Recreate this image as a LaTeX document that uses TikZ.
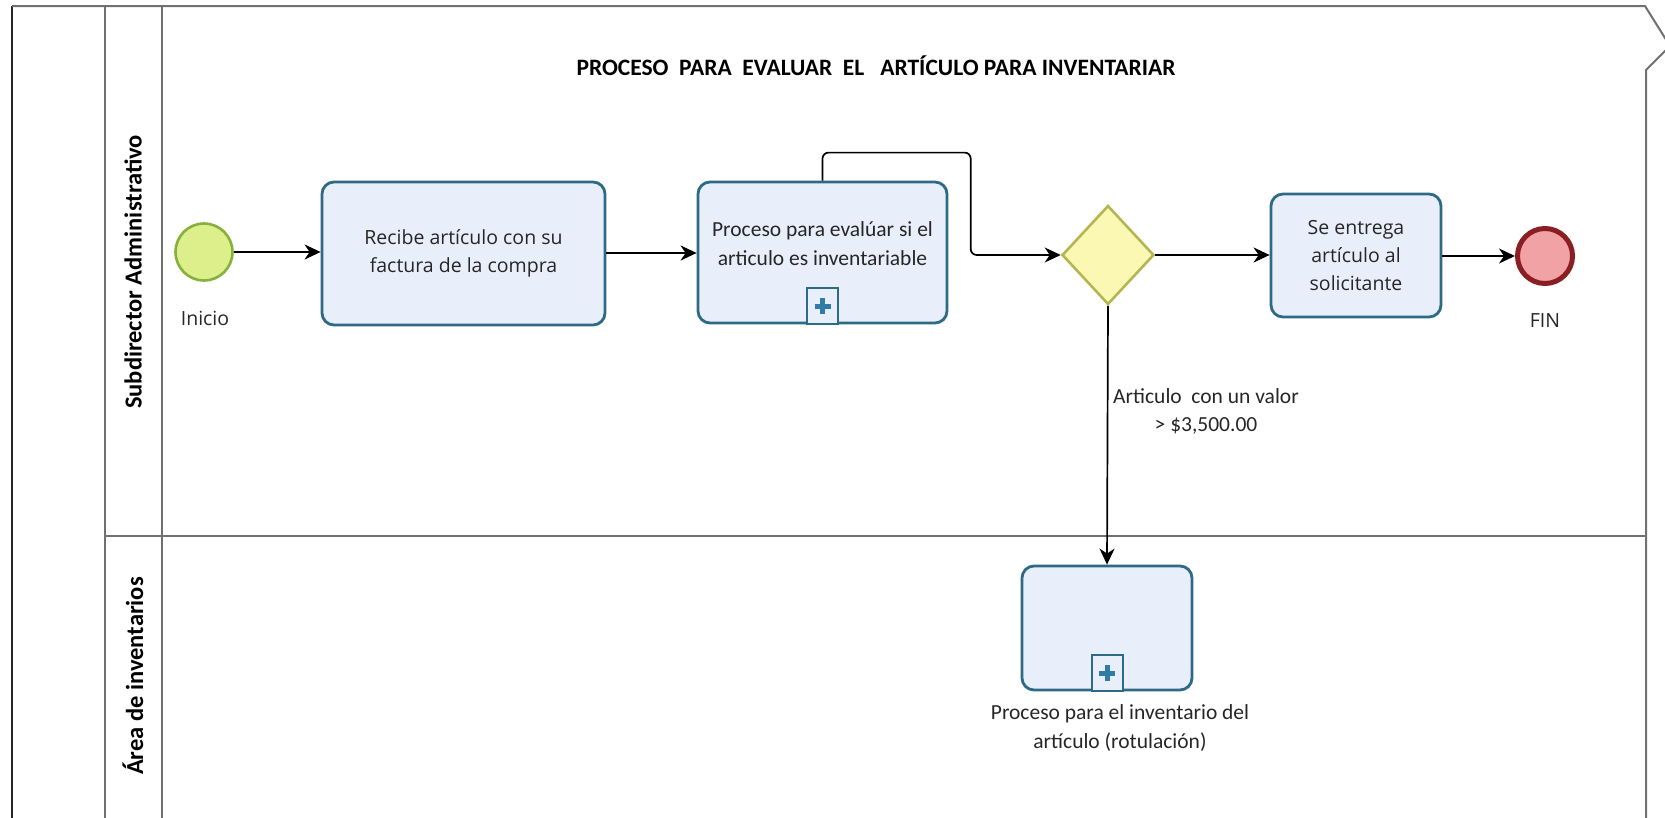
\documentclass[tikz,border=0pt]{standalone}
\usepackage{fontspec}
\setmainfont{Open Sans}
\newfontfamily\narrowfont{Carlito}
\usetikzlibrary{arrows.meta,shapes.geometric,calc}
\definecolor{taskfill}{HTML}{E9EEFB}
\definecolor{taskline}{HTML}{2D6A85}
\definecolor{startfill}{HTML}{DCEF8A}
\definecolor{startline}{HTML}{85B13C}
\definecolor{gwfill}{HTML}{FBF8B4}
\definecolor{gwline}{HTML}{B5B552}
\definecolor{endfill}{HTML}{F0A2A5}
\definecolor{endline}{HTML}{8B1E22}
\definecolor{plusc}{HTML}{2F7DA6}
\definecolor{laneline}{HTML}{707070}
\definecolor{txt}{HTML}{262626}
\begin{document}
\begin{tikzpicture}[x=1pt,y=-1pt,
  task/.style={draw=taskline, line width=2.8pt, fill=taskfill, rounded corners=12pt,
    inner sep=0pt, align=center, text=txt, font=\fontsize{19.5}{28}\selectfont},
  marker/.style={draw=taskline, line width=2pt, fill=taskfill, minimum width=31pt,
    minimum height=36pt, inner sep=0pt},
  plusbar/.style={draw=plusc, line width=5pt},
  narrowtext/.style={align=center, text=txt, inner sep=0pt,
    font=\narrowfont\fontsize{21.5}{29}\selectfont},
  eventlbl/.style={text=txt, inner sep=0pt, font=\fontsize{19.5}{24}\selectfont},
  startev/.style={circle, draw=startline, line width=2.6pt, fill=startfill,
    minimum size=57pt, inner sep=0pt},
  endev/.style={circle, draw=endline, line width=5pt, fill=endfill,
    minimum size=55pt, inner sep=0pt},
  gateway/.style={diamond, draw=gwline, line width=2.6pt, fill=gwfill,
    minimum width=92pt, minimum height=99pt, inner sep=0pt},
  lanelbl/.style={rotate=90, text=black, inner sep=0pt,
    font=\narrowfont\bfseries\fontsize{24.5}{26}\selectfont},
  titlelbl/.style={text=black, inner sep=0pt,
    font=\narrowfont\bfseries\fontsize{23.5}{25}\selectfont},
  flow/.style={draw=black, line width=1.7pt,
    -{Stealth[length=16pt,width=15pt,inset=5pt]}},
  poolline/.style={draw=laneline, line width=2pt},
  outerline/.style={draw=black!85, line width=2.2pt}
]
\useasboundingbox (0,0) rectangle (1665,817);
\begin{scope}
\clip (0,0) rectangle (1665,817);
% pool and lanes
\draw[outerline] (12,830) -- (12,6);
\draw[poolline] (12,6) -- (1645,6) -- (1670,46) -- (1646,70) -- (1646,830);
\draw[poolline] (105,6) -- (105,830);
\draw[poolline] (162,6) -- (162,830);
\draw[poolline] (105,536) -- (1646,536);
\end{scope}

\node[titlelbl] (title) at (876,66) {PROCESO\ \ PARA\ \ EVALUAR\ \ EL\ \ \ ARTÍCULO PARA INVENTARIAR};
\node[lanelbl] (lane1) at (133,272) {Subdirector Administrativo};
\node[lanelbl] (lane2) at (133,676) {Área de inventarios};

% events
\node[startev] (start) at (204,252) {};
\node[eventlbl] (startlbl) at (205,318) {Inicio};
\node[endev] (end) at (1545,256) {};
\node[eventlbl] (endlbl) at (1545,321) {FIN};

% tasks
\node[task, minimum width=283pt, minimum height=143pt] (t1) at (463.5,253.5)
  {Recibe artículo con su\\factura de la compra};
\node[task, minimum width=249pt, minimum height=141pt] (t2) at (822.5,252.5) {};
\node[narrowtext] (t2txt) at ([yshift=9pt]t2.center)
  {Proceso para evalúar si el\\articulo es inventariable};
\node[marker] (m2) at ([yshift=18pt]t2.south) {};
\draw[plusbar] ([xshift=-8pt]m2.center) -- ([xshift=8pt]m2.center);
\draw[plusbar] ([yshift=-8pt]m2.center) -- ([yshift=8pt]m2.center);

\node[gateway] (gw) at (1108,255) {};

\node[task, minimum width=170pt, minimum height=123pt] (t3) at (1356,255.5)
  {Se entrega\\artículo al\\solicitante};

\node[task, minimum width=170pt, minimum height=124pt] (t4) at (1107,628) {};
\node[marker] (m4) at ([yshift=18pt]t4.south) {};
\draw[plusbar] ([xshift=-8pt]m4.center) -- ([xshift=8pt]m4.center);
\draw[plusbar] ([yshift=-8pt]m4.center) -- ([yshift=8pt]m4.center);
\node[narrowtext] (t4lbl) at (1120,728) {Proceso para el inventario del\\artículo (rotulación)};

\node[narrowtext, font=\narrowfont\fontsize{21.5}{28}\selectfont] (cond) at (1206,411)
  {Articulo\ \ con un valor\\> \$3,500.00};

% flows
\draw[flow] (start) -- (t1.west |- start);
\draw[flow] (t1.east |- 0,253) -- (t2.west |- 0,253);
\draw[flow, rounded corners=6pt] (t2.north) -- ([yshift=28pt]t2.north)
  -| ($(gw.west)+(-90,0)$) -- (gw.west);
\draw[flow] (gw.east) -- (t3.west |- gw.east);
\draw[flow] (t3.east |- end) -- (end.west);
\draw[flow] (gw.south) -- (t4.north);
\end{tikzpicture}
\end{document}
